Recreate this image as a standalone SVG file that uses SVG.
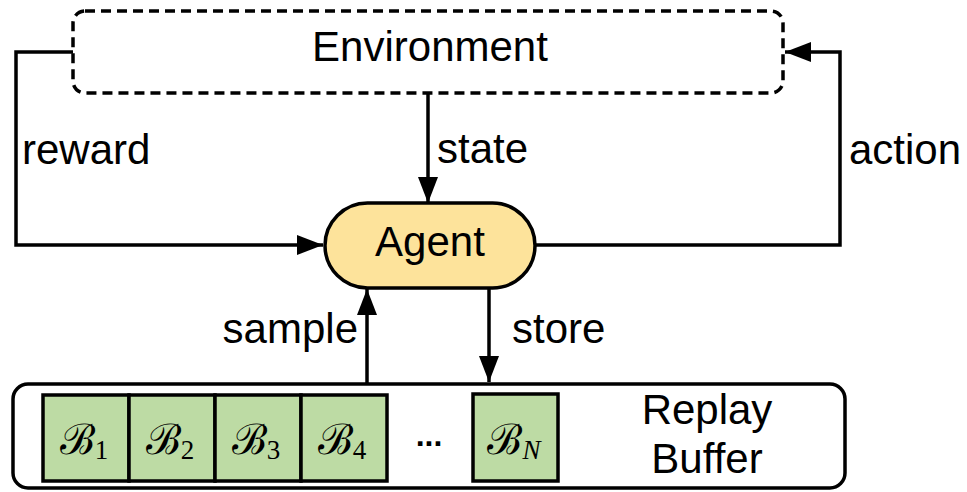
<svg xmlns="http://www.w3.org/2000/svg" width="967" height="492" viewBox="0 0 967 492">
<style>
.t{font-family:"Liberation Sans",Arial,sans-serif;font-size:42px;fill:#000}
.m{font-family:"DejaVu Serif","Liberation Serif",serif;font-size:42px;fill:#000}
.s{font-family:"Liberation Serif",serif;font-size:27px}
.ln{fill:none;stroke:#000;stroke-width:3.5}
.bx{fill:#bddba4;stroke:#000;stroke-width:3.5}
</style>
<defs>
<marker id="ah" markerWidth="26" markerHeight="20" refX="26" refY="10" orient="auto" markerUnits="userSpaceOnUse">
<path d="M0,0 L26,10 L0,20 Z" fill="#000"/>
</marker>
</defs>
<rect width="967" height="492" fill="#fff"/>
<g id="connectors">
<path class="ln" d="M73,52 H16 V245 H323" marker-end="url(#ah)"/>
<path class="ln" d="M535,245 H840 V52 H785" marker-end="url(#ah)"/>
<path class="ln" d="M428,93 V203" marker-end="url(#ah)"/>
<path class="ln" d="M367,384 V289" marker-end="url(#ah)"/>
<path class="ln" d="M489,288 V382" marker-end="url(#ah)"/>
<text class="t" x="22" y="164">reward</text>
<text class="t" x="849" y="164">action</text>
<text class="t" x="437" y="163">state</text>
<text class="t" x="358" y="343" text-anchor="end">sample</text>
<text class="t" x="512" y="343">store</text>
</g>
<g id="environment">
<rect x="73" y="11" width="710" height="82" rx="12" fill="#fff" stroke="#000" stroke-width="3.5" stroke-dasharray="10 6"/>
<text class="t" x="430" y="61" text-anchor="middle">Environment</text>
</g>
<g id="agent">
<rect x="325" y="203" width="210" height="85" rx="42.5" fill="#fde39b" stroke="#000" stroke-width="3.5"/>
<text class="t" x="430" y="256" text-anchor="middle">Agent</text>
</g>
<g id="replay-buffer">
<rect x="13" y="384" width="832" height="104" rx="15" fill="#fff" stroke="#000" stroke-width="3.5"/>
<text class="t" x="707" y="424" text-anchor="middle">Replay</text>
<text class="t" x="707" y="473" text-anchor="middle">Buffer</text>
</g>
<g id="b1"><rect class="bx" x="43" y="395" width="86" height="86"/><text class="m" x="84" y="454" text-anchor="middle">ℬ<tspan class="s" dy="5">1</tspan></text></g>
<g id="b2"><rect class="bx" x="129" y="395" width="86" height="86"/><text class="m" x="170" y="454" text-anchor="middle">ℬ<tspan class="s" dy="5">2</tspan></text></g>
<g id="b3"><rect class="bx" x="215" y="395" width="86" height="86"/><text class="m" x="256" y="454" text-anchor="middle">ℬ<tspan class="s" dy="5">3</tspan></text></g>
<g id="b4"><rect class="bx" x="301" y="395" width="86" height="86"/><text class="m" x="342" y="454" text-anchor="middle">ℬ<tspan class="s" dy="5">4</tspan></text></g>
<g id="ellipsis"><text x="429" y="446" text-anchor="middle" style="font-family:'Liberation Sans',Arial,sans-serif;font-size:32px;font-weight:bold">...</text></g>
<g id="bN"><rect class="bx" x="473" y="394" width="85" height="87"/><text class="m" x="514" y="454" text-anchor="middle">ℬ<tspan class="s" font-style="italic" dy="5">N</tspan></text></g>
</svg>
